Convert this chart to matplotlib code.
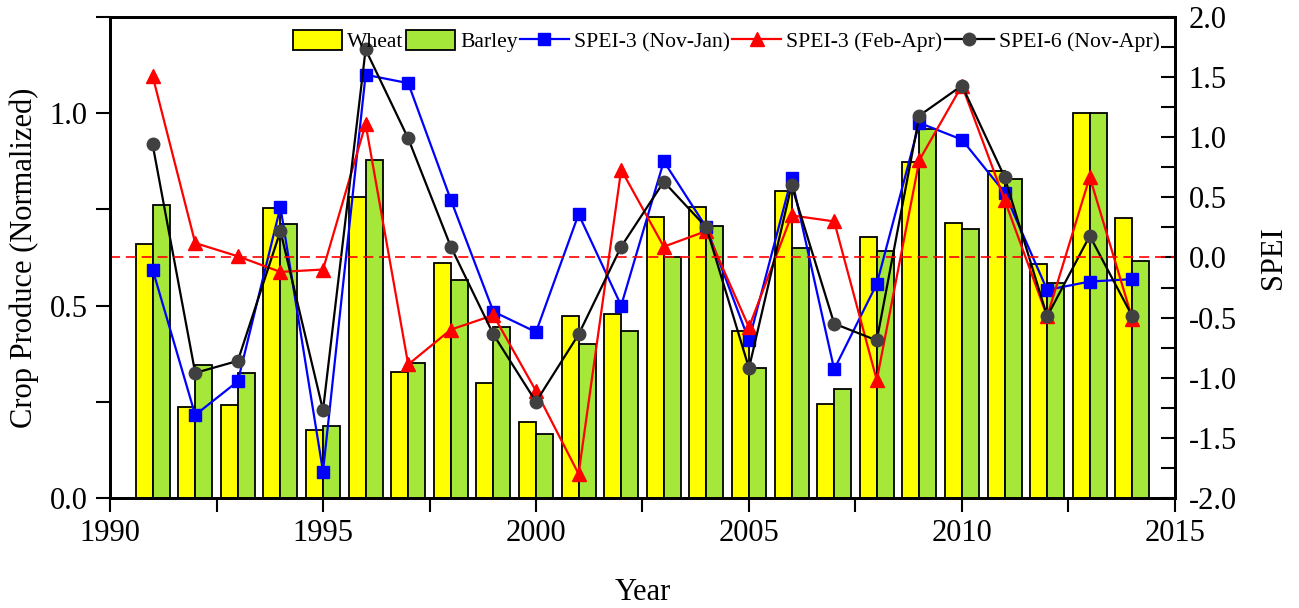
import numpy as np
import matplotlib
matplotlib.use("Agg")
import matplotlib.pyplot as plt
from matplotlib.ticker import MultipleLocator, FormatStrFormatter

plt.rcParams['font.family'] = ['Liberation Serif', 'DejaVu Serif']

years = np.arange(1991, 2015)

wheat = [0.661, 0.237, 0.242, 0.754, 0.177, 0.783, 0.328, 0.611,
         0.300, 0.198, 0.473, 0.477, 0.731, 0.755, 0.435, 0.797,
         0.244, 0.679, 0.874, 0.714, 0.849, 0.609, 1.000, 0.727]
barley = [0.761, 0.345, 0.325, 0.711, 0.187, 0.878, 0.352, 0.566,
          0.445, 0.165, 0.401, 0.435, 0.625, 0.707, 0.339, 0.649,
          0.283, 0.643, 0.959, 0.699, 0.830, 0.558, 1.000, 0.616]

spei3_nov_jan = [-0.10, -1.31, -1.03, 0.42, -1.78, 1.52, 1.45, 0.48,
                 -0.45, -0.62, 0.36, -0.40, 0.80, 0.25, -0.69, 0.66,
                 -0.93, -0.22, 1.12, 0.98, 0.54, -0.27, -0.20, -0.18]
spei3_feb_apr = [1.51, 0.12, 0.01, -0.12, -0.10, 1.11, -0.89, -0.60,
                 -0.48, -1.11, -1.80, 0.73, 0.09, 0.22, -0.58, 0.35,
                 0.30, -1.02, 0.81, 1.43, 0.48, -0.49, 0.67, -0.51]
spei6_nov_apr = [0.94, -0.96, -0.86, 0.22, -1.27, 1.73, 0.99, 0.09,
                 -0.64, -1.20, -0.64, 0.09, 0.63, 0.25, -0.92, 0.60,
                 -0.55, -0.69, 1.18, 1.43, 0.67, -0.49, 0.18, -0.49]

fig = plt.figure(figsize=(12.99, 6.08), dpi=100)
ax = fig.add_axes([0.0847, 0.181, 0.8198, 0.791])
ax2 = ax.twinx()

w = 0.4
b1 = ax.bar(years - w / 2, wheat, width=w, color='#ffff00', edgecolor='black',
            linewidth=1.3, label='Wheat')
b2 = ax.bar(years + w / 2, barley, width=w, color='#a6e83a', edgecolor='black',
            linewidth=1.3, label='Barley')

l1, = ax2.plot(years, spei3_nov_jan, color='#0000ff', lw=1.6, marker='s', ms=8,
               label='SPEI-3 (Nov-Jan)')
l2, = ax2.plot(years, spei3_feb_apr, color='#ff0000', lw=1.6, marker='^', ms=9.5,
               label='SPEI-3 (Feb-Apr)')
l3, = ax2.plot(years, spei6_nov_apr, color='black', lw=1.6, marker='o', ms=9,
               markerfacecolor='#404040', markeredgecolor='#404040',
               label='SPEI-6 (Nov-Apr)')
ax2.axhline(0, color='#ff0000', lw=1.2, ls=(0, (6, 3.5)))

ax.set_xlim(1990, 2015)
ax.set_ylim(0, 1.25)
ax2.set_ylim(-2, 2)

ax.xaxis.set_major_locator(MultipleLocator(5))
ax.xaxis.set_minor_locator(MultipleLocator(2.5))
ax.yaxis.set_major_locator(MultipleLocator(0.5))
ax.yaxis.set_minor_locator(MultipleLocator(0.25))
ax2.yaxis.set_major_locator(MultipleLocator(0.5))
ax2.yaxis.set_minor_locator(MultipleLocator(0.25))

fs = 22
ax.tick_params(axis='x', which='both', direction='out', length=10, width=1.5,
               labelsize=fs, top=False, pad=5)
ax.tick_params(axis='y', which='both', direction='out', length=10, width=1.5,
               labelsize=fs, pad=6)
ax2.tick_params(axis='y', which='both', direction='in', length=10, width=1.5,
                labelsize=fs, pad=10)
ax.yaxis.set_major_formatter(FormatStrFormatter('%.1f'))
ax2.yaxis.set_major_formatter(FormatStrFormatter('%.1f'))

for a in (ax, ax2):
    for s in a.spines.values():
        s.set_linewidth(2)

ax.set_xlabel('Year', fontsize=fs, labelpad=22)
ax.set_ylabel('Crop Produce (Normalized)', fontsize=fs, labelpad=8)
ax2.set_ylabel('SPEI', fontsize=fs, labelpad=16)

ax2.legend(handles=[b1, b2, l1, l2, l3], loc='upper right', ncol=5,
           frameon=False, fontsize=15.6, handlelength=2.25, handleheight=1.05,
           handletextpad=0.25, columnspacing=0.1, borderaxespad=0.2,
           bbox_to_anchor=(0.998, 1.0))

fig.savefig('out.png', dpi=100)
